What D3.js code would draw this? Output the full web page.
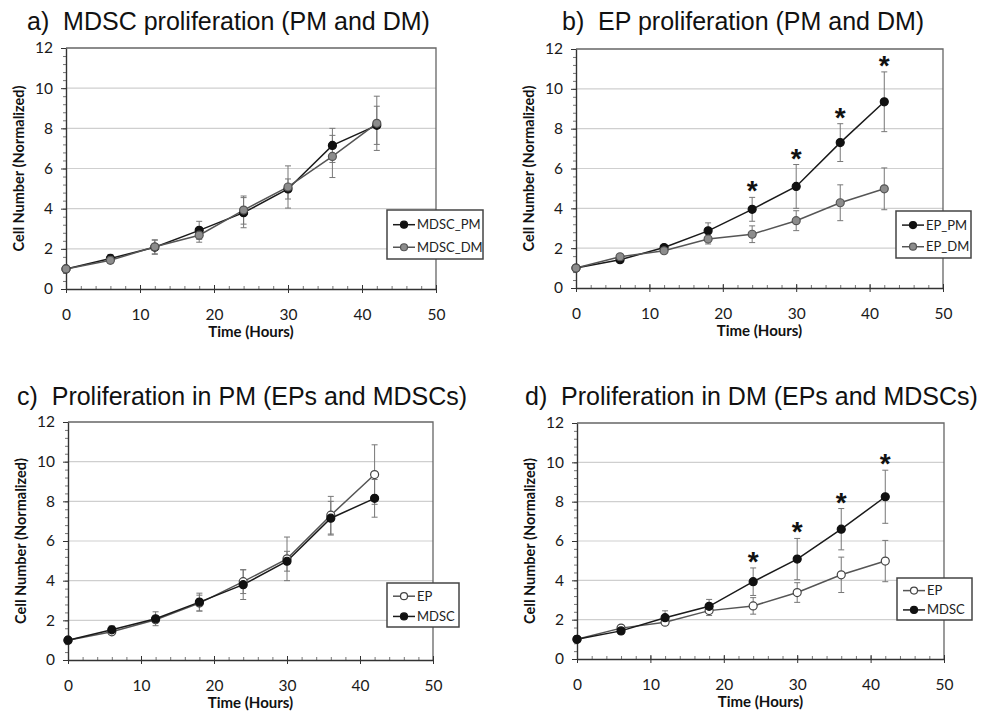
<!DOCTYPE html>
<html>
<head>
<meta charset="utf-8">
<script src="https://cdn.jsdelivr.net/npm/d3@7"></script>
<style>
  body { margin: 0; background: #fff; }
  svg { display: block; }
</style>
</head>
<body>
<div id="chart"></div>
<script>
// time points (hours)
var hours = [0, 6, 12, 18, 24, 30, 36, 42];

// MDSC in proliferation medium / differentiation medium
var mdscPM = [1.0, 1.52, 2.08, 2.92, 3.8, 4.98, 7.15, 8.15];
var mdscPMErr = [0.05, 0.2, 0.35, 0.45, 0.75, 0.5, 0.85, 0.95];
var mdscDM = [1.0, 1.43, 2.1, 2.68, 3.93, 5.08, 6.6, 8.25];
var mdscDMErr = [0.05, 0.15, 0.35, 0.35, 0.7, 1.05, 1.05, 1.35];

// EP in proliferation medium / differentiation medium
var epPM = [1.0, 1.42, 2.03, 2.87, 3.95, 5.1, 7.3, 9.35];
var epPMErr = [0.05, 0.1, 0.1, 0.4, 0.6, 1.1, 0.95, 1.5];
var epDM = [1.0, 1.57, 1.87, 2.46, 2.7, 3.38, 4.28, 4.98];
var epDMErr = [0.05, 0.1, 0.1, 0.25, 0.42, 0.5, 0.9, 1.05];

// hours with significant difference (*)
var starHours = [24, 30, 36, 42];

var yTicks = [0, 2, 4, 6, 8, 10, 12];
var xTicks = [0, 10, 20, 30, 40, 50];

var styles = {
    black: { line: "#1a1a1a", fill: "#111", stroke: "#111" },
    gray: { line: "#555", fill: "#8c8c8c", stroke: "#555" },
    open: { line: "#555", fill: "#fff", stroke: "#444" }
};

var panels = [
    { title: "a)  MDSC proliferation (PM and DM)", tx: 27, ty: 30,
      left: 66, right: 436, top: 48, bottom: 289,
      series: [
          { name: "MDSC_PM", y: mdscPM, err: mdscPMErr, style: "black" },
          { name: "MDSC_DM", y: mdscDM, err: mdscDMErr, style: "gray" }
      ],
      star: null,
      legend: { x: 387, y: 210, w: 96, h: 49 } },
    { title: "b)  EP proliferation (PM and DM)", tx: 562, ty: 30,
      left: 576, right: 943, top: 49, bottom: 288,
      series: [
          { name: "EP_PM", y: epPM, err: epPMErr, style: "black" },
          { name: "EP_DM", y: epDM, err: epDMErr, style: "gray" }
      ],
      star: 0,
      legend: { x: 896, y: 211, w: 75, h: 47 } },
    { title: "c)  Proliferation in PM (EPs and MDSCs)", tx: 17, ty: 405,
      left: 68, right: 433, top: 422, bottom: 660,
      series: [
          { name: "EP", y: epPM, err: epPMErr, style: "open" },
          { name: "MDSC", y: mdscPM, err: mdscPMErr, style: "black" }
      ],
      star: null,
      legend: { x: 387, y: 583, w: 72, h: 44 } },
    { title: "d)  Proliferation in DM (EPs and MDSCs)", tx: 525, ty: 405,
      left: 577, right: 944, top: 423, bottom: 659,
      series: [
          { name: "EP", y: epDM, err: epDMErr, style: "open" },
          { name: "MDSC", y: mdscDM, err: mdscDMErr, style: "black" }
      ],
      star: 1,
      legend: { x: 897, y: 578, w: 75, h: 42 } }
];

var svg = d3.select("#chart")
    .append("svg")
    .attr("width", 987)
    .attr("height", 713);

panels.forEach(function(p) {
    var xScale = d3.scaleLinear().domain([0, 50]).range([p.left, p.right]);
    var yScale = d3.scaleLinear().domain([0, 12]).range([p.bottom, p.top]);
    var g = svg.append("g");

    // title
    g.append("text")
        .attr("x", p.tx)
        .attr("y", p.ty)
        .style("white-space", "pre")
        .attr("font-family", "Liberation Sans, Arial, sans-serif")
        .attr("font-size", 25)
        .attr("fill", "#111")
        .text(p.title);

    // gridlines
    g.selectAll(".grid")
        .data(yTicks.filter(function(d) { return d > 0 && d < 12; }))
        .enter().append("line")
        .attr("x1", p.left).attr("x2", p.right)
        .attr("y1", d => yScale(d)).attr("y2", d => yScale(d))
        .attr("stroke", "#cfcfcf")
        .attr("stroke-width", 1.2);

    // plot frame (top + right)
    g.append("path")
        .attr("d", "M" + p.left + "," + p.top + "H" + p.right + "V" + p.bottom)
        .attr("fill", "none")
        .attr("stroke", "#666")
        .attr("stroke-width", 1.3);

    // y axis with minor ticks
    var minorY = d3.range(0, 12.01, 0.4);
    g.append("g")
        .attr("transform", "translate(" + p.left + ",0)")
        .call(d3.axisLeft(yScale).tickValues(minorY).tickSize(3).tickFormat(""))
        .call(a => a.select(".domain").remove())
        .selectAll("line").attr("stroke", "#777");
    var yAxis = g.append("g")
        .attr("transform", "translate(" + p.left + ",0)")
        .call(d3.axisLeft(yScale).tickValues(yTicks).tickSize(5).tickPadding(8).tickSizeOuter(0));
    yAxis.select(".domain").attr("stroke", "#333").attr("stroke-width", 1.4);
    yAxis.selectAll("line").attr("stroke", "#333");
    yAxis.selectAll("text")
        .attr("font-family", "Lato, Calibri, sans-serif")
        .attr("font-size", 15.5)
        .attr("fill", "#1a1a1a");

    // x axis with minor ticks
    g.append("g")
        .attr("transform", "translate(0," + p.bottom + ")")
        .call(d3.axisTop(xScale).tickValues(d3.range(0, 51, 2)).tickSize(3).tickFormat(""))
        .call(a => a.select(".domain").remove())
        .selectAll("line").attr("stroke", "#777");
    var xAxis = g.append("g")
        .attr("transform", "translate(0," + p.bottom + ")")
        .call(d3.axisBottom(xScale).tickValues(xTicks).tickSize(4).tickPadding(16).tickSizeOuter(0));
    xAxis.select(".domain").attr("stroke", "#333").attr("stroke-width", 1.4);
    xAxis.selectAll(".tick line").attr("y1", -4).attr("stroke", "#333");
    xAxis.selectAll("text")
        .attr("font-family", "Lato, Calibri, sans-serif")
        .attr("font-size", 15.5)
        .attr("fill", "#1a1a1a");

    // axis titles
    g.append("text")
        .attr("x", (p.left + p.right) / 2)
        .attr("y", p.bottom + 48)
        .attr("text-anchor", "middle")
        .attr("font-family", "Lato, Calibri, sans-serif")
        .attr("font-weight", "bold")
        .attr("font-size", 15)
        .attr("fill", "#111")
        .text("Time (Hours)");
    g.append("text")
        .attr("transform", "translate(" + (p.left - 42) + "," + ((p.top + p.bottom) / 2) + ") rotate(-90)")
        .attr("text-anchor", "middle")
        .attr("font-family", "Lato, Calibri, sans-serif")
        .attr("font-weight", "bold")
        .attr("font-size", 14.5)
        .attr("fill", "#111")
        .text("Cell Number (Normalized)");

    // series: error bars, lines, markers
    p.series.forEach(function(s) {
        var st = styles[s.style];
        var pts = hours.map(function(h, i) { return { x: h, y: s.y[i], e: s.err[i] }; });
        var eb = g.append("g").attr("stroke", "#777").attr("stroke-width", 1);
        pts.forEach(function(d) {
            var cx = xScale(d.x);
            eb.append("line").attr("x1", cx).attr("x2", cx)
                .attr("y1", yScale(d.y - d.e)).attr("y2", yScale(d.y + d.e));
            [d.y - d.e, d.y + d.e].forEach(function(v) {
                eb.append("line").attr("x1", cx - 3).attr("x2", cx + 3)
                    .attr("y1", yScale(v)).attr("y2", yScale(v));
            });
        });
        var lineGen = d3.line().x(d => xScale(d.x)).y(d => yScale(d.y));
        g.append("path")
            .attr("d", lineGen(pts))
            .attr("fill", "none")
            .attr("stroke", st.line)
            .attr("stroke-width", 1.5);
        s.pts = pts;
    });
    p.series.forEach(function(s) {
        var st = styles[s.style];
        g.selectAll(null)
            .data(s.pts)
            .enter().append("circle")
            .attr("cx", d => xScale(d.x))
            .attr("cy", d => yScale(d.y))
            .attr("r", 4)
            .attr("fill", st.fill)
            .attr("stroke", st.stroke)
            .attr("stroke-width", 1.2);
    });

    // significance stars above the upper error bar
    if (p.star !== null) {
        var ss = p.series[p.star];
        ss.pts.filter(d => starHours.indexOf(d.x) >= 0).forEach(function(d) {
            g.append("text")
                .attr("x", xScale(d.x))
                .attr("y", yScale(d.y + d.e) + 3)
                .attr("text-anchor", "middle")
                .attr("font-family", "Liberation Sans, Arial, sans-serif")
                .attr("font-weight", "bold")
                .attr("font-size", 28)
                .attr("fill", "#111")
                .text("*");
        });
    }

    // legend
    var L = p.legend;
    var lg = g.append("g");
    lg.append("rect")
        .attr("x", L.x).attr("y", L.y)
        .attr("width", L.w).attr("height", L.h)
        .attr("fill", "#fff")
        .attr("stroke", "#444")
        .attr("stroke-width", 1.5);
    p.series.forEach(function(s, i) {
        var st = styles[s.style];
        var ly = L.y + L.h * (i === 0 ? 0.3 : 0.76);
        lg.append("line")
            .attr("x1", L.x + 6).attr("x2", L.x + 28)
            .attr("y1", ly).attr("y2", ly)
            .attr("stroke", st.line).attr("stroke-width", 1.5);
        lg.append("circle")
            .attr("cx", L.x + 17).attr("cy", ly).attr("r", 3.5)
            .attr("fill", st.fill).attr("stroke", st.stroke).attr("stroke-width", 1.2);
        lg.append("text")
            .attr("x", L.x + 30).attr("y", ly)
            .attr("dy", "0.35em")
            .attr("font-family", "Lato, Calibri, sans-serif")
            .attr("font-size", 13)
            .attr("fill", "#222")
            .text(s.name);
    });
});
</script>
</body>
</html>
